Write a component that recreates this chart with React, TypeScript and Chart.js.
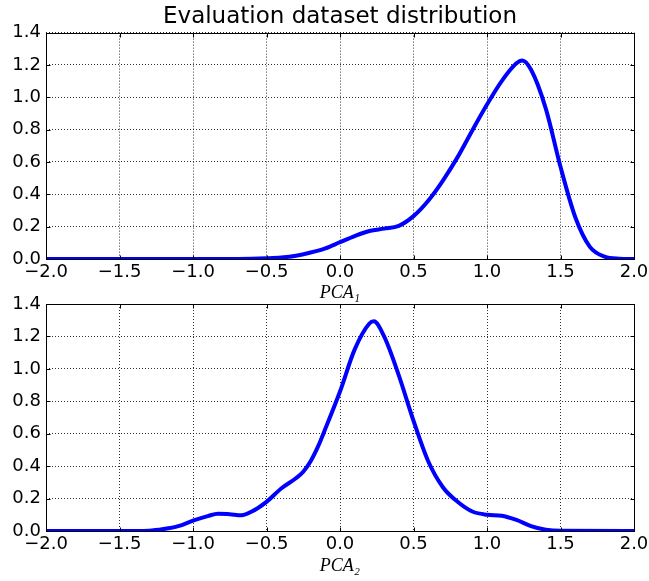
import React, { useEffect, useRef } from 'react';
import { Chart, registerables } from 'chart.js';

Chart.register(...registerables);

const TITLE = 'Evaluation dataset distribution';
const X_LABEL_1 = 'PCA₁';
const X_LABEL_2 = 'PCA₂';

const X_MIN = -2.0;
const X_MAX = 2.0;
const X_STEP = 0.5;
const Y_MIN = 0.0;
const Y_MAX = 1.4;
const Y_STEP = 0.2;

const PCA1_X = [-2.0, -1.5, -1.0, -0.7, -0.6, -0.5, -0.4, -0.3, -0.2, -0.1, 0.0, 0.1, 0.2, 0.3, 0.4, 0.5, 0.6, 0.7, 0.8, 0.9, 1.0, 1.1, 1.2, 1.24, 1.3, 1.4, 1.5, 1.6, 1.7, 1.8, 1.9, 2.0];
const PCA1_DENSITY = [0, 0, 0, 0, 0.001, 0.004, 0.009, 0.02, 0.04, 0.066, 0.104, 0.142, 0.173, 0.188, 0.205, 0.265, 0.36, 0.485, 0.63, 0.795, 0.955, 1.1, 1.21, 1.228, 1.17, 0.93, 0.57, 0.26, 0.075, 0.015, 0.002, 0];

const PCA2_X = [-2.0, -1.5, -1.3, -1.2, -1.1, -1.0, -0.9, -0.83, -0.75, -0.67, -0.6, -0.5, -0.4, -0.3, -0.25, -0.2, -0.15, -0.1, 0.0, 0.1, 0.2, 0.23, 0.3, 0.4, 0.5, 0.6, 0.7, 0.8, 0.9, 1.0, 1.1, 1.2, 1.3, 1.4, 1.5, 2.0];
const PCA2_DENSITY = [0, 0, 0.002, 0.012, 0.03, 0.064, 0.092, 0.107, 0.103, 0.097, 0.12, 0.18, 0.262, 0.325, 0.365, 0.43, 0.52, 0.63, 0.86, 1.12, 1.28, 1.293, 1.2, 0.96, 0.68, 0.43, 0.27, 0.18, 0.12, 0.1, 0.094, 0.068, 0.03, 0.008, 0.001, 0];

const FONT = "'DejaVu Sans', sans-serif";
const CANVAS_W = 700;

const fmt = (v: number) => {
  const s = Math.abs(v).toFixed(1);
  return v < -1e-9 ? '\u2212' + s : s;
};

const framePlugin = {
  id: 'frame',
  afterDraw(chart: any) {
    const { ctx, chartArea } = chart;
    const left = Math.round(chartArea.left) + 0.5;
    const top = Math.round(chartArea.top) + 0.5;
    const right = Math.round(chartArea.right) + 0.5;
    const bottom = Math.round(chartArea.bottom) + 0.5;
    ctx.save();
    ctx.strokeStyle = '#000';
    ctx.lineWidth = 1;
    ctx.setLineDash([]);
    const xs = chart.scales.x;
    const ys = chart.scales.y;
    const len = 4;
    ctx.beginPath();
    xs.ticks.forEach((t: any) => {
      const px = Math.round(xs.getPixelForValue(t.value)) + 0.5;
      ctx.moveTo(px, bottom);
      ctx.lineTo(px, bottom - len);
      ctx.moveTo(px, top);
      ctx.lineTo(px, top + len);
    });
    ys.ticks.forEach((t: any) => {
      const py = Math.round(ys.getPixelForValue(t.value)) + 0.5;
      ctx.moveTo(left, py);
      ctx.lineTo(left + len, py);
      ctx.moveTo(right, py);
      ctx.lineTo(right - len, py);
    });
    ctx.stroke();
    ctx.strokeRect(left, top, right - left, bottom - top);
    ctx.restore();
  },
};

function makeConfig(xs: number[], ys: number[], xLabel: string, opts: any) {
  const data = xs.map((x, i) => ({ x, y: ys[i] }));
  const gridOpts = {
    color: 'rgba(0,0,0,0.8)',
    lineWidth: 1,
    drawTicks: false,
  };
  return {
    type: 'line',
    data: {
      datasets: [
        {
          data,
          borderColor: '#0000ff',
          borderWidth: 4,
          pointRadius: 0,
          fill: false,
          cubicInterpolationMode: 'monotone',
        },
      ],
    },
    options: {
      responsive: false,
      animation: false,
      layout: { padding: opts.padding },
      plugins: {
        legend: { display: false },
        tooltip: { enabled: false },
        title: opts.title
          ? {
              display: true,
              text: opts.title,
              color: '#000',
              fullSize: false,
              font: { family: FONT, size: 23, weight: 'normal' },
              padding: { top: 3, bottom: 2 },
            }
          : { display: false },
      },
      scales: {
        x: {
          type: 'linear',
          min: X_MIN,
          max: X_MAX,
          afterFit: (s: any) => {
            s.height = opts.xHeight;
          },
          ticks: {
            stepSize: X_STEP,
            color: '#000',
            padding: 3,
            maxRotation: 0,
            font: { family: FONT, size: 18 },
            callback: (v: number) => fmt(v),
          },
          grid: { ...gridOpts },
          border: { display: false, dash: [1, 2] },
          title: {
            display: true,
            text: xLabel,
            color: '#000',
            font: { family: "'Liberation Serif', 'DejaVu Serif', serif", size: 18, style: 'italic' },
            padding: { top: 0, bottom: opts.xTitlePad },
          },
        },
        y: {
          min: Y_MIN,
          max: Y_MAX,
          afterFit: (s: any) => {
            s.width = 46;
          },
          ticks: {
            stepSize: Y_STEP,
            color: '#000',
            padding: 5,
            font: { family: FONT, size: 18 },
            callback: (v: number) => fmt(v),
          },
          grid: { ...gridOpts },
          border: { display: false, dash: [1, 2] },
        },
      },
    },
    plugins: [framePlugin],
  };
}

function DensityChart(props: { xs: number[]; ys: number[]; label: string; height: number; top: number; opts: any }) {
  const ref = useRef<HTMLCanvasElement | null>(null);
  useEffect(() => {
    if (!ref.current) return;
    const cfg: any = makeConfig(props.xs, props.ys, props.label, props.opts);
    const chart = new Chart(ref.current, cfg);
    return () => chart.destroy();
  }, []);
  return (
    <canvas
      ref={ref}
      width={CANVAS_W}
      height={props.height}
      style={{ position: 'absolute', left: 0, top: props.top, width: CANVAS_W, height: props.height }}
    />
  );
}

export default function App() {
  useEffect(() => {
    document.body.style.margin = '0';
    document.body.style.background = '#fff';
  }, []);
  return (
    <div style={{ position: 'relative', width: 649, height: 581, background: '#fff', overflow: 'hidden' }}>
      <DensityChart
        xs={PCA1_X}
        ys={PCA1_DENSITY}
        label={X_LABEL_1}
        height={304}
        top={0}
        opts={{ title: TITLE, padding: { top: 0, right: CANVAS_W - 634, left: 0, bottom: 0 }, xHeight: 45, xTitlePad: 0 }}
      />
      <DensityChart
        xs={PCA2_X}
        ys={PCA2_DENSITY}
        label={X_LABEL_2}
        height={301}
        top={280}
        opts={{ title: null, padding: { top: 24, right: CANVAS_W - 634, left: 0, bottom: 0 }, xHeight: 50, xTitlePad: 4 }}
      />
    </div>
  );
}
